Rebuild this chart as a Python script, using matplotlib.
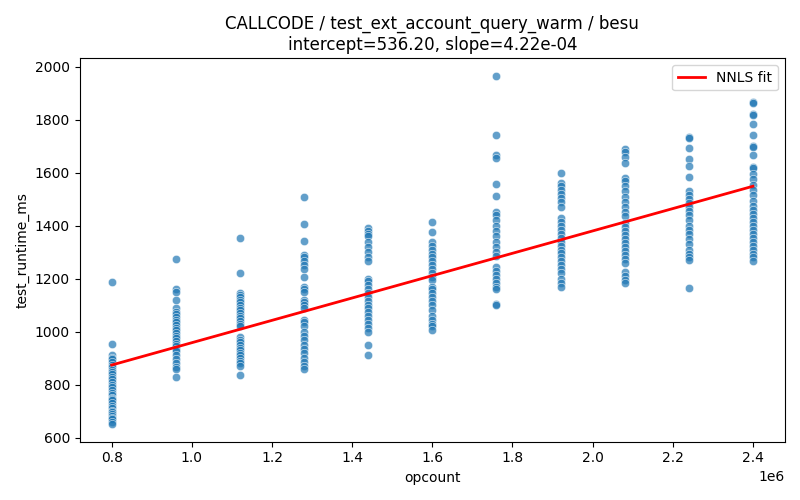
import numpy as np
import pandas as pd
import matplotlib
matplotlib.use("Agg")
import matplotlib.pyplot as plt
import seaborn as sns

# runtimes, one list per opcount column
opcounts = [800000, 960000, 1120000, 1280000, 1440000, 1600000,
            1760000, 1920000, 2080000, 2240000, 2400000]

rt_0800 = [1187, 953, 910, 900, 895, 885, 875, 865, 855, 848, 840, 830, 820, 810,
           800, 790, 780, 770, 760, 750, 745, 740, 730, 720, 710, 700, 695, 690,
           680, 675, 670, 660, 650]
rt_0960 = [1275, 1160, 1150, 1120, 1090, 1075, 1065, 1055, 1045, 1035, 1025, 1015,
           1005, 995, 985, 975, 965, 955, 945, 935, 925, 910, 895, 880, 865, 860, 830]
rt_1120 = [1352, 1222, 1145, 1140, 1130, 1120, 1110, 1100, 1090, 1080, 1070, 1060,
           1050, 1040, 1030, 1020, 980, 970, 960, 950, 940, 930, 920, 910, 900, 890,
           880, 870, 835]
rt_1280 = [1508, 1406, 1342, 1290, 1280, 1265, 1250, 1235, 1207, 1170, 1160, 1150,
           1120, 1110, 1100, 1090, 1045, 1035, 1020, 1000, 985, 970, 950, 935, 920,
           900, 885, 870, 860]
rt_1440 = [1392, 1380, 1370, 1360, 1340, 1320, 1300, 1280, 1265, 1200, 1190, 1175,
           1160, 1145, 1130, 1115, 1100, 1090, 1075, 1060, 1045, 1030, 1015, 1000,
           948, 912]
rt_1600 = [1414, 1376, 1340, 1325, 1310, 1295, 1280, 1265, 1250, 1235, 1220, 1205,
           1195, 1170, 1160, 1145, 1130, 1115, 1100, 1080, 1060, 1045, 1030, 1020, 1008]
rt_1760 = [1966, 1742, 1668, 1656, 1557, 1513, 1450, 1440, 1420, 1400, 1380, 1360,
           1340, 1320, 1300, 1285, 1245, 1230, 1215, 1200, 1185, 1170, 1160, 1105, 1100]
rt_1920 = [1599, 1560, 1550, 1535, 1520, 1505, 1490, 1470, 1430, 1415, 1400, 1385,
           1370, 1355, 1340, 1325, 1310, 1298, 1280, 1265, 1250, 1235, 1220, 1200,
           1185, 1170]
rt_2080 = [1690, 1680, 1660, 1635, 1580, 1570, 1550, 1530, 1510, 1490, 1470, 1450,
           1435, 1410, 1395, 1380, 1365, 1350, 1335, 1320, 1305, 1290, 1275, 1260,
           1225, 1210, 1195, 1185]
rt_2240 = [1735, 1730, 1693, 1650, 1625, 1585, 1530, 1515, 1500, 1485, 1470, 1455,
           1440, 1420, 1400, 1385, 1370, 1350, 1330, 1310, 1295, 1280, 1270, 1165]
rt_2400 = [1867, 1862, 1822, 1818, 1785, 1743, 1702, 1698, 1668, 1622, 1618, 1595,
           1575, 1555, 1535, 1515, 1495, 1475, 1460, 1445, 1430, 1415, 1400, 1385,
           1370, 1355, 1340, 1325, 1310, 1295, 1280, 1268]

runtimes = [rt_0800, rt_0960, rt_1120, rt_1280, rt_1440, rt_1600,
            rt_1760, rt_1920, rt_2080, rt_2240, rt_2400]

intercept = 536.20
slope = 4.22e-04

rows = []
for oc, rts in zip(opcounts, runtimes):
    for r in rts:
        rows.append((oc, r))
df = pd.DataFrame(rows, columns=["opcount", "test_runtime_ms"])

fig, ax = plt.subplots(figsize=(8, 5), dpi=100)
sns.scatterplot(data=df, x="opcount", y="test_runtime_ms", alpha=0.7, ax=ax)

xs = np.array([min(opcounts), max(opcounts)])
ax.plot(xs, intercept + slope * xs, color="red", linewidth=2, label="NNLS fit")

ax.set_title("CALLCODE / test_ext_account_query_warm / besu\n"
             "intercept=%.2f, slope=%.2e" % (intercept, slope))
ax.legend(loc="upper right")

plt.tight_layout()
plt.savefig("out.png")
